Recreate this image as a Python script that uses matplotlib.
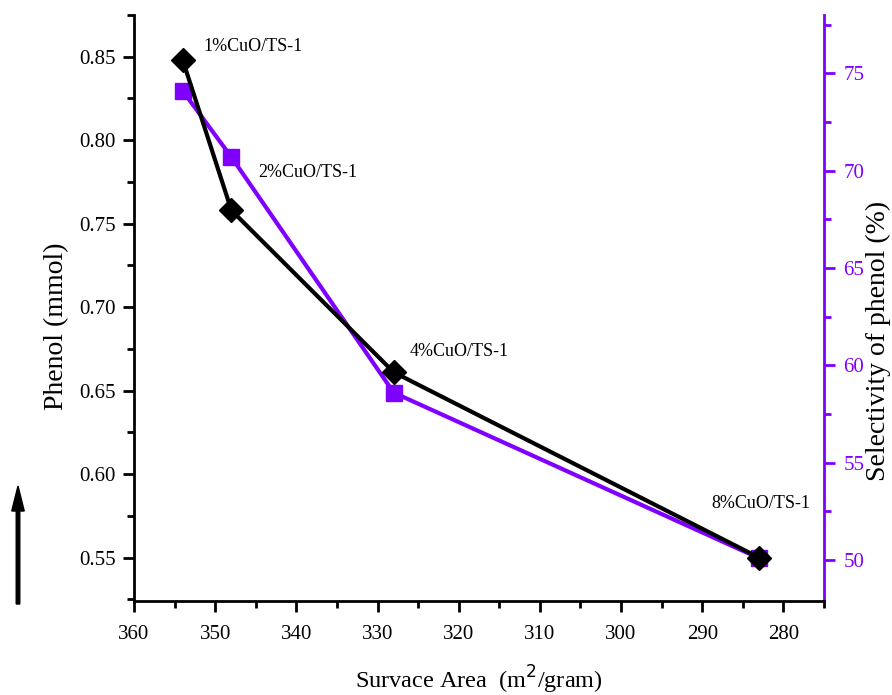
import matplotlib
matplotlib.use("Agg")
import matplotlib.pyplot as plt
from matplotlib.ticker import MultipleLocator, FormatStrFormatter

plt.rcParams['font.family'] = ['Liberation Serif', 'DejaVu Serif']

surface_area = [354, 348, 328, 283]
phenol_mmol = [0.848, 0.758, 0.661, 0.550]
selectivity = [74.1, 70.7, 58.6, 50.1]
labels = ["1%CuO/TS-1", "2%CuO/TS-1", "4%CuO/TS-1", "8%CuO/TS-1"]

purple = "#7F00FF"

W, H = 892, 695
fig = plt.figure(figsize=(W / 100, H / 100), dpi=100)
ax = fig.add_axes([134 / W, 1 - 601 / H, (824 - 134) / W, (601 - 15) / H])
ax2 = ax.twinx()

ax2.plot(surface_area, selectivity, color=purple, lw=3, marker='s', ms=11,
         markerfacecolor=purple, markeredgecolor=purple, zorder=2)
ax.plot(surface_area, phenol_mmol, color='black', lw=3, marker='D', ms=12,
        markerfacecolor='black', markeredgecolor='black', zorder=3)

ax.set_zorder(ax2.get_zorder() + 1)
ax.patch.set_visible(False)

ax.set_xlim(360, 275)
ax.set_ylim(0.524, 0.875)
ax2.set_ylim(47.9, 78.0)

ax.xaxis.set_major_locator(MultipleLocator(10))
ax.xaxis.set_minor_locator(MultipleLocator(5))
ax.yaxis.set_major_locator(MultipleLocator(0.05))
ax.yaxis.set_minor_locator(MultipleLocator(0.025))
ax2.yaxis.set_major_locator(MultipleLocator(5))
ax2.yaxis.set_minor_locator(MultipleLocator(2.5))
ax.yaxis.set_major_formatter(FormatStrFormatter('%.2f'))

for a in (ax, ax2):
    a.spines['top'].set_visible(False)
    for s in a.spines.values():
        s.set_linewidth(2)
ax.spines['right'].set_visible(False)
ax2.spines['left'].set_visible(False)
ax2.spines['bottom'].set_visible(False)
ax2.spines['right'].set_color(purple)

ax.tick_params(axis='both', which='major', direction='out', length=8, width=2,
               labelsize=15, pad=5)
ax.tick_params(axis='x', which='major', pad=9)
ax.tick_params(axis='both', which='minor', direction='out', length=5, width=2)
ax2.tick_params(axis='y', which='major', direction='out', length=8, width=2,
                labelsize=15, colors=purple, pad=6)
ax2.tick_params(axis='y', which='minor', direction='out', length=5, width=2,
                colors=purple)

ax.set_ylabel("Phenol (mmol)", fontsize=20)
ax2.set_ylabel("Selectivity of phenol (%)", fontsize=20, color='black')
ax.set_xlabel("Survace Area  (m$^2$/gram)", fontsize=17.5)

# label positions in axes coordinates
ax_w, ax_h = 824 - 134, 601 - 15
ax.yaxis.set_label_coords((57 - 134) / ax_w, (601 - 326) / ax_h)
ax2.yaxis.set_label_coords((878 - 134) / ax_w, (601 - 341) / ax_h)
ax.xaxis.set_label_coords(0.5, (601 - 680) / ax_h)
ax.yaxis.label.set_va('center')
ax2.yaxis.label.set_va('center')
ax.xaxis.label.set_va('center')

offsets = [(15, 9.5), (19.5, 27.5), (11.5, 15), (-34.5, 39)]
for x, y, lab, off in zip(surface_area, phenol_mmol, labels, offsets):
    ax.annotate(lab, (x, y), xytext=off, textcoords='offset points',
                fontsize=13, ha='left', va='center')

fig.patches.append(matplotlib.patches.FancyArrow(
    18 / W, 1 - 604 / H, 0, 118 / H, width=0.004, head_width=0.014,
    head_length=0.036, length_includes_head=True, color='black',
    transform=fig.transFigure, figure=fig))

fig.savefig("out.png", dpi=100)
